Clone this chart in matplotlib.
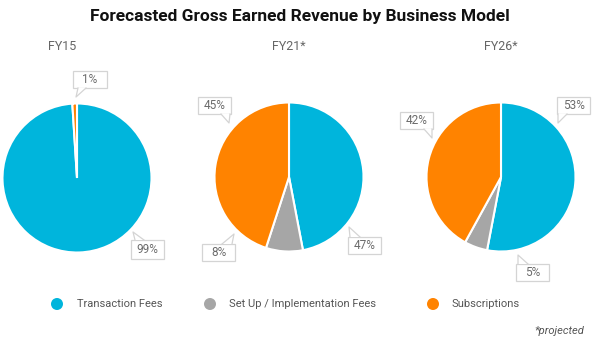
import matplotlib
matplotlib.use("Agg")
import matplotlib.pyplot as plt
from matplotlib.patches import Rectangle, Polygon, Ellipse
from matplotlib.lines import Line2D

# Datos (porcentajes de ingresos por modelo de negocio)
years = ["FY15", "FY21*", "FY26*"]
categories = ["Transaction Fees", "Set Up / Implementation Fees", "Subscriptions"]
transaction_fees = [99, 47, 53]
setup_fees = [0, 8, 5]
subscriptions = [1, 45, 42]

colors = ["#00b5dc", "#a6a6a6", "#ff8300"]
text_grey = "#6b6b6b"

W, H = 594, 344
fig = plt.figure(figsize=(W / 100, H / 100), dpi=100)
fig.patch.set_facecolor("white")


def fx(x):
    return x / W


def fy(y):
    return 1 - y / H


# Centros de los pasteles (pixeles) y radio
centers = [(77, 178), (289, 177), (501, 177)]
R = 76
title_x = [62, 289, 501]

# Etiquetas: caja (x0, y0, x1, y1), base del puntero (dos puntos) y vértice
label_layout = [
    [((131, 240, 164, 259), (135, 240), (144, 240), (133, 232)),
     None,
     ((73, 71, 107, 88), (78, 88), (86, 88), (76, 97))],
    [((348, 237, 381, 254), (350, 237), (360, 237), (349, 227)),
     ((202, 244, 235, 261), (222, 244), (232, 244), (234, 234)),
     ((198, 97, 231, 114), (221, 114), (230, 114), (229, 123))],
    [((557, 97, 590, 114), (558, 114), (567, 114), (558, 123)),
     ((516, 264, 549, 281), (518, 264), (528, 264), (518, 255)),
     ((400, 112, 433, 129), (424, 129), (432, 129), (432, 138))],
]

fig.text(fx(300), fy(16), "Forecasted Gross Earned Revenue by Business Model",
         ha="center", va="center", fontsize=12.5, fontweight="bold",
         family="Roboto", color="#111111")

for i, year in enumerate(years):
    values = [transaction_fees[i], setup_fees[i], subscriptions[i]]
    cx, cy = centers[i]
    ax = fig.add_axes([fx(cx - R), fy(cy + R), 2 * R / W, 2 * R / H])
    vals = [v for v in values if v > 0]
    cols = [c for v, c in zip(values, colors) if v > 0]
    ax.pie(vals, colors=cols, startangle=90, counterclock=False, radius=1,
           wedgeprops=dict(edgecolor="white", linewidth=1.5))
    ax.set_xlim(-1.02, 1.02)
    ax.set_ylim(-1.02, 1.02)
    ax.axis("off")

    fig.text(fx(title_x[i]), fy(47), year, ha="center", va="center",
             fontsize=9, color="#666666", family="Roboto")

    # Cajas de porcentaje con puntero
    for v, lay in zip(values, label_layout[i]):
        if v == 0 or lay is None:
            continue
        (x0, y0, x1, y1), b1, b2, tip = lay
        fig.patches.append(Rectangle((fx(x0), fy(y1)), fx(x1 - x0), (y1 - y0) / H,
                                     transform=fig.transFigure, facecolor="white",
                                     edgecolor="#d4d4d4", linewidth=0.9, zorder=5))
        pts = [(fx(b1[0]), fy(b1[1])), (fx(tip[0]), fy(tip[1])), (fx(b2[0]), fy(b2[1]))]
        fig.patches.append(Polygon(pts, closed=True, transform=fig.transFigure,
                                   facecolor="white", edgecolor="none", zorder=6))
        fig.lines.append(Line2D([p[0] for p in pts], [p[1] for p in pts],
                                transform=fig.transFigure, color="#d4d4d4",
                                linewidth=0.9, zorder=7))
        fig.text(fx((x0 + x1) / 2), fy((y0 + y1) / 2), f"{v}%", ha="center",
                 va="center", fontsize=8.5, color=text_grey, family="Roboto",
                 zorder=8)

# Leyenda
legend_dots = [57, 210, 433]
legend_text = [77, 229, 452]
for cat, col, dx, tx in zip(categories, colors, legend_dots, legend_text):
    fig.patches.append(Ellipse((fx(dx), fy(304)), 12 / W, 12 / H,
                               transform=fig.transFigure,
                               facecolor=col, edgecolor="none"))
    fig.text(fx(tx), fy(304), cat, ha="left", va="center", fontsize=8,
             color="#555555", family="Roboto")

fig.text(fx(584), fy(331), "*projected", ha="right", va="center", fontsize=8,
         style="italic", color="#555555", family="Roboto")

fig.savefig("out.png", dpi=100, facecolor="white")
